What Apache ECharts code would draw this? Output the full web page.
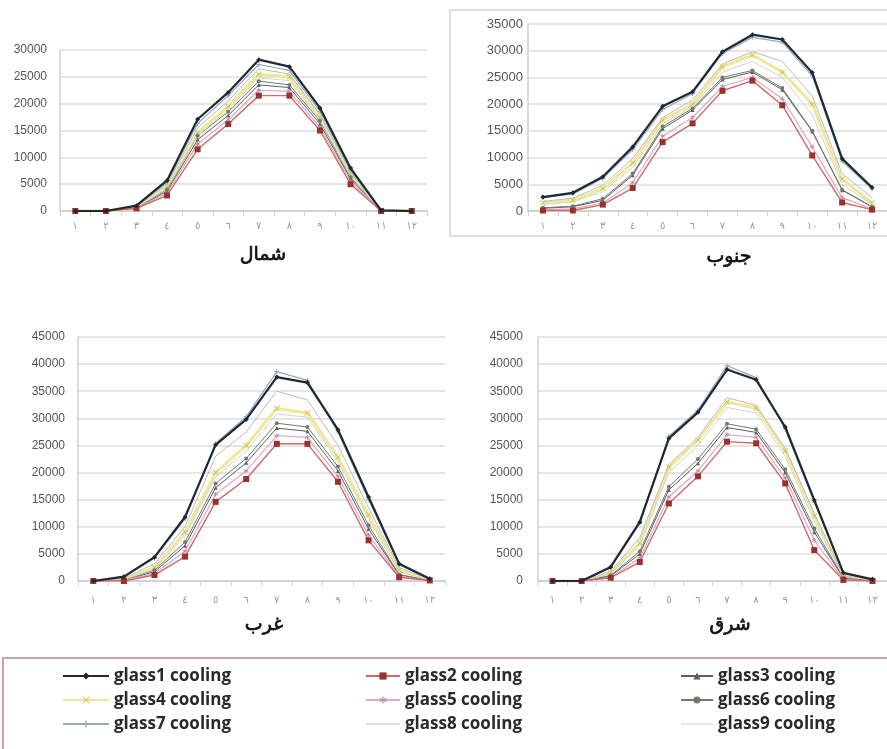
<!DOCTYPE html>
<html>
<head>
<meta charset="utf-8">
<script src="https://cdn.jsdelivr.net/npm/echarts@6/dist/echarts.min.js"></script>
<style>
	html, body { margin: 0; padding: 0; background: #fff; }
	#chart { width: 887px; height: 749px; }
</style>
</head>
<body>
<div id="chart"></div>
<script>
// months in Arabic-Indic digits
const months = ['١', '٢', '٣', '٤', '٥', '٦', '٧', '٨', '٩', '١٠', '١١', '١٢'];
const seriesNames = ['glass1 cooling', 'glass2 cooling', 'glass3 cooling', 'glass4 cooling', 'glass5 cooling',
	'glass6 cooling', 'glass7 cooling', 'glass8 cooling', 'glass9 cooling'];
const panelTitles = ['شمال', 'جنوب', 'غرب', 'شرق'];
const yMax = [30000, 35000, 45000, 45000];

// one row per glass type (glass1 .. glass9)
const north = [
	[0, 0, 1000, 5700, 17100, 22100, 28200, 26900, 19200, 8000, 100, 0],
	[0, 0, 500, 2900, 11500, 16200, 21500, 21500, 15000, 5000, 0, 0],
	[0, 0, 550, 3700, 13300, 17800, 23500, 23000, 16200, 6000, 50, 0],
	[0, 0, 700, 4500, 14500, 19500, 25500, 25000, 17500, 6800, 100, 0],
	[0, 0, 500, 3300, 12500, 17000, 22500, 22300, 15600, 5500, 0, 0],
	[0, 0, 600, 4000, 14000, 18500, 24200, 23500, 16800, 6300, 100, 0],
	[0, 0, 900, 5300, 16300, 21500, 27300, 26200, 18600, 7500, 100, 0],
	[0, 0, 800, 5000, 15500, 20500, 26500, 25500, 18000, 7200, 100, 0],
	[0, 0, 650, 4200, 14000, 19000, 24800, 24300, 17000, 6500, 100, 0]
];
const south = [
	[2600, 3400, 6400, 12000, 19600, 22300, 29800, 33000, 32100, 25900, 9800, 4400],
	[100, 100, 1200, 4300, 12900, 16400, 22500, 24400, 19800, 10400, 1600, 250],
	[500, 800, 2000, 6700, 15400, 18900, 24600, 26000, 22700, 14900, 3900, 750],
	[1500, 2000, 4200, 9000, 17000, 20000, 27000, 29200, 26000, 20000, 6000, 1500],
	[200, 400, 1500, 5300, 14000, 17500, 23300, 25000, 21000, 12000, 2500, 400],
	[600, 900, 2300, 7000, 15800, 19200, 25000, 26300, 23000, 15000, 4000, 800],
	[2500, 3200, 6100, 11500, 19000, 22000, 29500, 32500, 31600, 25300, 9300, 4100],
	[1800, 2400, 4800, 9800, 17500, 20800, 27500, 29800, 28000, 21500, 7000, 2500],
	[1200, 1700, 3600, 8200, 16300, 19500, 26000, 28000, 25000, 18000, 5000, 1200]
];
const west = [
	[0, 800, 4400, 11800, 25100, 29800, 37600, 36600, 27900, 15500, 3200, 400],
	[0, 0, 1100, 4500, 14600, 18800, 25300, 25300, 18300, 7500, 700, 100],
	[0, 150, 1700, 6500, 17200, 21800, 28200, 27600, 20300, 9600, 1100, 100],
	[0, 300, 2500, 9000, 20000, 25000, 31800, 31000, 22800, 12200, 2000, 200],
	[0, 100, 1400, 5500, 16000, 20300, 26800, 26500, 19300, 8500, 900, 100],
	[0, 200, 2000, 7200, 18000, 22600, 29100, 28400, 21100, 10300, 1200, 100],
	[0, 700, 4200, 11500, 25400, 30300, 38600, 37000, 27500, 15000, 3000, 300],
	[0, 500, 3200, 10000, 23000, 27500, 35000, 33400, 25000, 13500, 2500, 250],
	[0, 250, 2200, 8300, 19200, 24000, 30800, 30200, 22000, 11500, 1700, 150]
];
const east = [
	[0, 0, 2600, 10900, 26300, 31100, 39000, 37100, 28400, 14900, 1500, 300],
	[0, 0, 600, 3500, 14300, 19300, 25700, 25400, 18000, 5700, 200, 0],
	[0, 0, 900, 5000, 16800, 21700, 28300, 27400, 20000, 9000, 500, 100],
	[0, 0, 1500, 7000, 21000, 26000, 33000, 31900, 24000, 12000, 900, 200],
	[0, 0, 700, 4200, 15500, 20300, 27000, 26500, 19000, 7500, 300, 50],
	[0, 0, 1000, 5500, 17400, 22500, 29000, 28000, 20600, 9700, 600, 100],
	[0, 0, 2500, 10600, 26700, 31500, 39700, 37500, 28000, 14500, 1400, 300],
	[0, 0, 1800, 8000, 21500, 26500, 33800, 32400, 24500, 12500, 1000, 200],
	[0, 0, 1300, 6500, 20000, 25000, 32000, 31000, 23000, 11000, 800, 150]
];
const panelData = [north, south, west, east];

const xPath = 'path://M0,1L1,0L5,4L9,0L10,1L6,5L10,9L9,10L5,6L1,10L0,9L4,5Z';
const plusPath = 'path://M4,0H6V4H10V6H6V10H4V6H0V4H4Z';
const starPath = 'path://M4.3,0H5.7V3.3L8.6,1.6L9.3,2.8L6.4,4.5L9.3,6.2L8.6,7.4L5.7,5.7V9H4.3V5.7L1.4,7.4L0.7,6.2L3.6,4.5L0.7,2.8L1.4,1.6L4.3,3.3Z';
// thin line legend icon; tiny corner specks keep a wide box so it is not stretched
const linePath = 'path://M0,0L0.01,0L0,0.01Z M0,4.2H50V5.8H0Z M50,10L49.99,10L50,9.99Z';

const looks = [
	{ color: '#1f2833', width: 2.2, symbol: 'diamond', size: 5, z: 10 },
	{ color: '#cf6a64', width: 1.4, symbol: 'rect', size: 6, fill: '#9a3030', z: 9 },
	{ color: '#5e5e5e', width: 1, symbol: 'triangle', size: 4 },
	{ color: '#efe79a', width: 3, symbol: xPath, size: 6, fill: '#cfc24c' },
	{ color: '#dcaac6', width: 1.2, symbol: starPath, size: 5, fill: '#b98aa6' },
	{ color: '#6f7b6c', width: 1, symbol: 'circle', size: 4 },
	{ color: '#94abbb', width: 1.2, symbol: plusPath, size: 5 },
	{ color: '#bcbcbc', width: 1, symbol: 'none', size: 0 },
	{ color: '#d0d8c6', width: 1, symbol: 'none', size: 0 }
];

// grid boxes: north, south, west, east
const grids = [
	{ left: 60, top: 50, width: 367, height: 161 },
	{ left: 528, top: 24, width: 366, height: 187 },
	{ left: 78, top: 337, width: 367, height: 244 },
	{ left: 538, top: 337, width: 367, height: 244 }
];
const labelMargins = [13, 5, 13, 15];
const titlePos = [[263, 255], [729, 257], [264, 625], [730, 625]];

let xAxes = [];
let yAxes = [];
let series = [];
let graphics = [];

for (let p = 0; p < 4; p++) {
	xAxes.push({
		type: 'category',
		gridIndex: p,
		data: months,
		boundaryGap: true,
		axisLine: { lineStyle: { color: '#cccccc', width: 1.5 } },
		axisTick: { show: true, lineStyle: { color: '#d4d4d4' } },
		axisLabel: { color: '#9a9a9a', fontSize: 10, fontFamily: 'DejaVu Sans', margin: p < 2 ? 10 : 14 }
	});
	yAxes.push({
		type: 'value',
		gridIndex: p,
		min: 0,
		max: yMax[p],
		interval: 5000,
		axisLine: { show: true, lineStyle: { color: '#d0d0d0', width: 1.5 } },
		axisTick: { show: false },
		axisLabel: {
			color: '#555',
			fontSize: p == 1 ? 13 : 12,
			fontFamily: 'Liberation Sans',
			margin: labelMargins[p],
			formatter: function(v) { return String(v); }
		},
		splitLine: { lineStyle: { color: '#dcdcdc', width: 1.5 } }
	});
	for (let i = 0; i < 9; i++) {
		let lk = looks[i];
		series.push({
			name: seriesNames[i],
			type: 'line',
			xAxisIndex: p,
			yAxisIndex: p,
			data: panelData[p][i],
			symbol: lk.symbol,
			symbolSize: lk.size,
			showSymbol: lk.symbol !== 'none',
			lineStyle: { color: lk.color, width: lk.width },
			itemStyle: { color: lk.fill || lk.color },
			z: lk.z || 2
		});
	}
	graphics.push({
		type: 'text',
		x: titlePos[p][0],
		y: titlePos[p][1],
		style: {
			text: panelTitles[p],
			fill: '#111',
			stroke: '#111',
			lineWidth: 0.7,
			font: '19px "DejaVu Sans"',
			align: 'center',
			verticalAlign: 'middle'
		}
	});
}

// frame of the south panel and the legend box
graphics.push({
	type: 'rect',
	shape: { x: 450, y: 10, width: 500, height: 226 },
	style: { fill: 'none', stroke: '#d2d2d2', lineWidth: 1.5 }
});
graphics.push({
	type: 'rect',
	shape: { x: 3, y: 658, width: 900, height: 100 },
	style: { fill: 'none', stroke: '#c8a4a4', lineWidth: 2 }
});

const legendCols = [
	{ left: 62, width: 46, names: [0, 3, 6] },
	{ left: 365, width: 34, names: [1, 4, 7] },
	{ left: 680, width: 32, names: [2, 5, 8] }
];
let legends = legendCols.map(function(c) {
	return {
		orient: 'vertical',
		left: c.left,
		top: 667,
		padding: 0,
		itemWidth: c.width,
		itemHeight: 9,
		itemGap: 6,
		data: c.names.map(function(k) {
			if (looks[k].symbol === 'none') return { name: seriesNames[k], icon: linePath };
			return seriesNames[k];
		}),
		textStyle: {
			fontFamily: 'Open Sans',
			fontWeight: 'bold',
			fontSize: 17,
			lineHeight: 18,
			color: '#2a2a2a'
		}
	};
});

let myChart = echarts.init(document.getElementById('chart'));
let option = {
	animation: false,
	backgroundColor: '#fff',
	grid: grids,
	xAxis: xAxes,
	yAxis: yAxes,
	legend: legends,
	series: series,
	graphic: graphics
};
myChart.setOption(option);
</script>
</body>
</html>
